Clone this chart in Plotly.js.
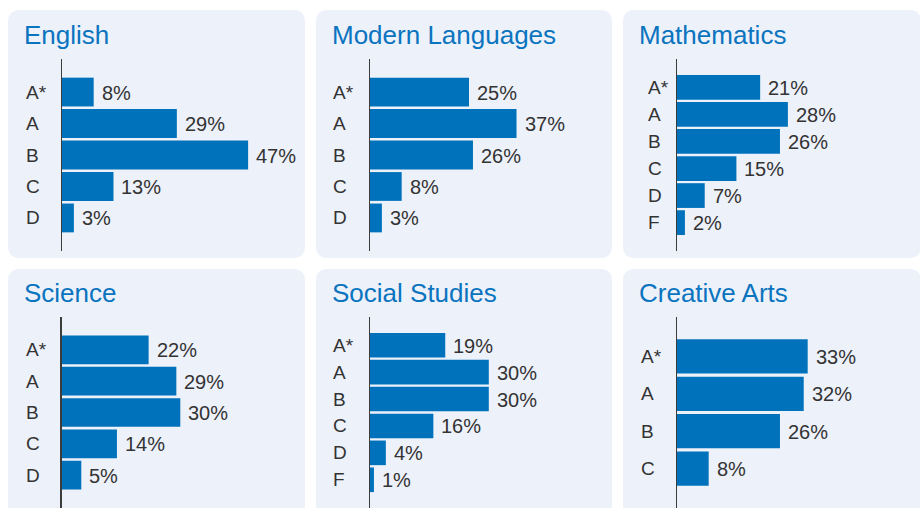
<!DOCTYPE html>
<html>
<head>
<meta charset="utf-8">
<script src="https://cdn.plot.ly/plotly-3.0.1.min.js"></script>
<style>
  html, body { margin: 0; padding: 0; background: #ffffff; }
  #chart { width: 920px; height: 508px; }
</style>
</head>
<body>
<div id="chart"></div>
<script>
// ---- Data ----
const subjects = ['English', 'Modern Languages', 'Mathematics', 'Science', 'Social Studies', 'Creative Arts'];

const englishGrades = ['A*', 'A', 'B', 'C', 'D'];
const englishValues = [8, 29, 47, 13, 3];

const modernGrades = ['A*', 'A', 'B', 'C', 'D'];
const modernValues = [25, 37, 26, 8, 3];

const mathGrades = ['A*', 'A', 'B', 'C', 'D', 'F'];
const mathValues = [21, 28, 26, 15, 7, 2];

const scienceGrades = ['A*', 'A', 'B', 'C', 'D'];
const scienceValues = [22, 29, 30, 14, 5];

const socialGrades = ['A*', 'A', 'B', 'C', 'D', 'F'];
const socialValues = [19, 30, 30, 16, 4, 1];

const creativeGrades = ['A*', 'A', 'B', 'C'];
const creativeValues = [33, 32, 26, 8];

const gradesList = [englishGrades, modernGrades, mathGrades, scienceGrades, socialGrades, creativeGrades];
const valuesList = [englishValues, modernValues, mathValues, scienceValues, socialValues, creativeValues];

// ---- Layout geometry (pixels) ----
const W = 920, H = 508;
const PXPERPCT = 3.96;
const panels = [
  {bg: [8, 10, 305, 258],   axisX: 62,   titleX: 24,  labelX: 26,  axisY: [59, 251],  titleY: 35.5},
  {bg: [316, 10, 612, 258], axisX: 370,  titleX: 332, labelX: 333, axisY: [59, 251],  titleY: 35.5},
  {bg: [623, 10, 921, 258], axisX: 677,  titleX: 639, labelX: 648, axisY: [59, 251],  titleY: 35.5},
  {bg: [8, 269, 305, 520],  axisX: 61.5, titleX: 24,  labelX: 26,  axisY: [317, 508], titleY: 293},
  {bg: [316, 269, 612, 520],axisX: 370,  titleX: 332, labelX: 333, axisY: [317, 508], titleY: 293},
  {bg: [623, 269, 921, 520],axisX: 677,  titleX: 639, labelX: 641, axisY: [317, 508], titleY: 293}
];

const fx = v => v / W;
const fy = v => 1 - v / H;

function roundRect(x0, y0, x1, y1, r) {
  const X = v => fx(v).toFixed(5), Y = v => fy(v).toFixed(5);
  return `M ${X(x0 + r)},${Y(y0)} L ${X(x1 - r)},${Y(y0)} Q ${X(x1)},${Y(y0)} ${X(x1)},${Y(y0 + r)} ` +
         `L ${X(x1)},${Y(y1 - r)} Q ${X(x1)},${Y(y1)} ${X(x1 - r)},${Y(y1)} ` +
         `L ${X(x0 + r)},${Y(y1)} Q ${X(x0)},${Y(y1)} ${X(x0)},${Y(y1 - r)} ` +
         `L ${X(x0)},${Y(y0 + r)} Q ${X(x0)},${Y(y0)} ${X(x0 + r)},${Y(y0)} Z`;
}

const FONT = 'Liberation Sans, Arial, Helvetica, sans-serif';
const BAR_COLOR = '#0072bc';
const TEXT_COLOR = '#333333';
const TITLE_COLOR = '#0a74bf';
const BG_COLOR = '#edf1fa';

const traces = [];
const shapes = [];
const annotations = [];
const layout = {
  width: W, height: H,
  margin: {l: 0, r: 0, t: 0, b: 0, pad: 0},
  paper_bgcolor: '#ffffff',
  plot_bgcolor: 'rgba(0,0,0,0)',
  showlegend: false,
  bargap: 0.085,
  font: {family: FONT, color: TEXT_COLOR}
};

panels.forEach((p, i) => {
  const k = i + 1;
  const xa = 'x' + (k === 1 ? '' : k);
  const ya = 'y' + (k === 1 ? '' : k);
  const xName = 'xaxis' + (k === 1 ? '' : k);
  const yName = 'yaxis' + (k === 1 ? '' : k);
  const grades = gradesList[i];
  const vals = valuesList[i];
  const n = grades.length;
  const wPx = p.bg[2] - p.axisX - 6;

  traces.push({
    type: 'bar', orientation: 'h',
    x: vals, y: grades,
    xaxis: xa, yaxis: ya,
    marker: {color: BAR_COLOR, line: {width: 0}},
    hoverinfo: 'skip'
  });

  layout[xName] = {
    domain: [fx(p.axisX), Math.min(1, fx(p.axisX + wPx))],
    range: [0, wPx / PXPERPCT],
    anchor: ya,
    showgrid: false, zeroline: false, showline: false,
    showticklabels: false, ticks: '', fixedrange: true
  };
  layout[yName] = {
    domain: [Math.max(0, fy(p.axisY[1])), fy(p.axisY[0])],
    type: 'category',
    categoryorder: 'array', categoryarray: grades,
    range: [n + 0.05, -1.05],
    anchor: xa,
    showgrid: false, zeroline: false,
    showline: true, linecolor: '#3c3c3c', linewidth: 1.5,
    showticklabels: false, ticks: '', fixedrange: true
  };

  shapes.push({
    type: 'path', xref: 'paper', yref: 'paper', layer: 'below',
    path: roundRect(p.bg[0], p.bg[1], p.bg[2], p.bg[3], 12),
    fillcolor: BG_COLOR, line: {width: 0}
  });

  annotations.push({
    xref: 'paper', yref: 'paper',
    x: fx(p.titleX - 2), y: fy(p.titleY),
    xanchor: 'left', yanchor: 'middle',
    text: subjects[i], showarrow: false,
    font: {family: FONT, size: 26, color: TITLE_COLOR}
  });

  grades.forEach((g, j) => {
    annotations.push({
      xref: 'paper', yref: ya,
      x: fx(p.labelX - 2), y: g,
      xanchor: 'left', yanchor: 'middle',
      text: g, showarrow: false,
      font: {family: FONT, size: 19, color: TEXT_COLOR}
    });
    annotations.push({
      xref: xa, yref: ya,
      x: vals[j], y: g,
      xanchor: 'left', yanchor: 'middle', xshift: 6, yshift: -0.5,
      text: vals[j] + '%', showarrow: false,
      font: {family: FONT, size: 20, color: TEXT_COLOR}
    });
  });
});

layout.shapes = shapes;
layout.annotations = annotations;

Plotly.newPlot('chart', traces, layout, {displayModeBar: false, staticPlot: true});
</script>
</body>
</html>
